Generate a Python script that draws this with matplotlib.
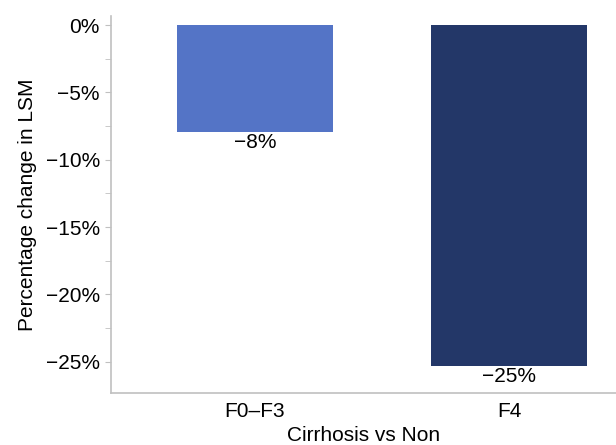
import matplotlib.pyplot as plt
from matplotlib.ticker import FixedLocator

plt.rcParams['font.family'] = ['Liberation Sans', 'DejaVu Sans']

groups = ["F0\u2013F3", "F4"]
change = [-7.95, -25.3]
bar_labels = ["\u22128%", "\u221225%"]
colors = ["#5474c6", "#233768"]
yticks = [0, -5, -10, -15, -20, -25]

fig = plt.figure(figsize=(6.16, 4.45), dpi=100)
ax = fig.add_axes([0.180, 0.116, 0.820, 0.848])

x = list(range(len(groups)))
bars = ax.bar(x, change, width=0.614, color=colors)

for b, lab in zip(bars, bar_labels):
    ax.annotate(lab, (b.get_x() + b.get_width() / 2, b.get_height()),
                xytext=(0, -1), textcoords='offset points',
                ha='center', va='top', fontsize=15)

ax.set_xlim(-0.567, 1.42)
ax.set_ylim(-27.35, 0.67)
ax.set_xticks(x)
ax.set_xticklabels(groups, fontsize=15)
ax.set_yticks(yticks)
ax.set_yticklabels([("\u2212" if v < 0 else "") + "%d%%" % abs(v) for v in yticks], fontsize=15)
ax.yaxis.set_minor_locator(FixedLocator([-2.5, -7.5, -12.5, -17.5, -22.5]))

ax.tick_params(axis='y', which='both', length=4, color='#c0c0c0', pad=4)
ax.tick_params(axis='x', length=0, pad=6.5)

for s in ['top', 'right']:
    ax.spines[s].set_visible(False)
for s in ['left', 'bottom']:
    ax.spines[s].set_color('#c0c0c0')
    ax.spines[s].set_linewidth(1.2)

ax.set_ylabel("Percentage change in LSM", fontsize=15, labelpad=6)
ax.set_xlabel("Cirrhosis vs Non", fontsize=15, labelpad=3)

fig.savefig("out.png", dpi=100)
